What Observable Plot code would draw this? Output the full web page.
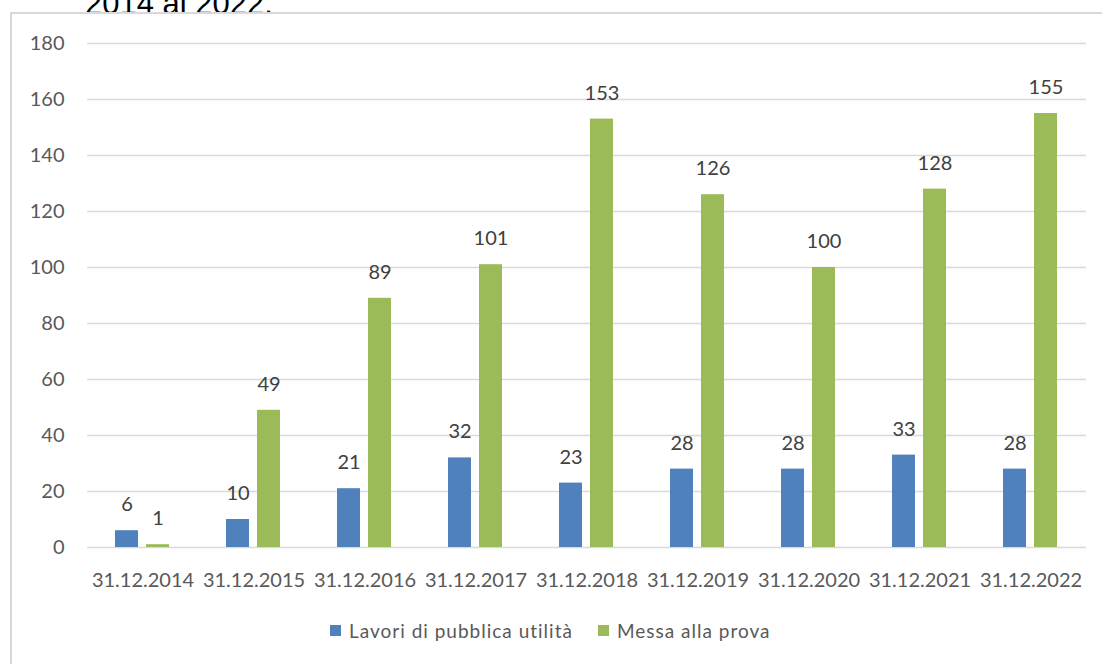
<!DOCTYPE html>
<html>
<head>
<meta charset="utf-8">
<script src="https://cdn.jsdelivr.net/npm/d3@7"></script>
<script src="https://cdn.jsdelivr.net/npm/@observablehq/plot@0.6"></script>
<style>
  html, body { margin: 0; padding: 0; background: #fff; }
  body { width: 1102px; height: 664px; position: relative; overflow: hidden; font-family: Lato, "Open Sans", sans-serif; }
  #title { position: absolute; left: 85px; top: -14px; font-family: "Liberation Sans", Arial, sans-serif; font-size: 31px; color: #000; white-space: nowrap; }
  #frame { position: absolute; left: 10px; top: 12px; width: 1200px; height: 700px; border: 2px solid #d9d9d9; box-sizing: border-box; }
  #chart { position: absolute; left: 0; top: 0; }
  #legend { position: absolute; top: 619px; left: 330px; display: flex; align-items: center; font-size: 19px; letter-spacing: 1px; color: #595959; white-space: nowrap; }
  .sw { display: inline-block; width: 11px; height: 11px; margin-right: 8px; }
  .item { display: flex; align-items: center; margin-right: 25px; }
</style>
</head>
<body>
<div id="title">2014 al 2022.</div>
<div id="frame"></div>
<div id="chart"></div>
<div id="legend"></div>
<script>
const categories = ["31.12.2014","31.12.2015","31.12.2016","31.12.2017","31.12.2018","31.12.2019","31.12.2020","31.12.2021","31.12.2022"];
const lavori = [6, 10, 21, 32, 23, 28, 28, 33, 28];
const messa = [1, 49, 89, 101, 153, 126, 100, 128, 155];
const seriesNames = ["Lavori di pubblica utilità", "Messa alla prova"];
const seriesColors = ["#4F81BD", "#9BBB59"];
const yTicks = [0, 20, 40, 60, 80, 100, 120, 140, 160, 180];

const data = categories.flatMap((c, i) => [
  {cat: c, series: seriesNames[0], value: lavori[i]},
  {cat: c, series: seriesNames[1], value: messa[i]}
]);

const chart = Plot.plot({
  width: 1102,
  height: 600,
  marginTop: 43,
  marginBottom: 53,
  marginLeft: 86,
  marginRight: 16,
  style: {fontFamily: "Lato, 'Open Sans', sans-serif", fontSize: "20px", color: "#595959", background: "transparent"},
  fx: {domain: categories, padding: 0, label: null, axis: null},
  x: {domain: seriesNames, paddingInner: 0.25, paddingOuter: 0.86, axis: null},
  y: {domain: [0, 180], label: null},
  color: {domain: seriesNames, range: seriesColors},
  marks: [
    Plot.gridY(yTicks, {stroke: "#d9d9d9", strokeOpacity: 1, strokeWidth: 1.5}),
    Plot.barY(data, {fx: "cat", x: "series", y: "value", fill: "series"}),
    Plot.text(data, {fx: "cat", x: "series", y: "value", text: d => String(d.value), dy: -26, fill: "#404040", fontSize: 20}),
    Plot.axisY({ticks: yTicks, tickSize: 0, tickPadding: 23, label: null, fontSize: 20}),
    Plot.axisFx({anchor: "bottom", tickSize: 0, tickPadding: 25, label: null, fontSize: 20, style: {letterSpacing: "1.5px"}})
  ]
});
document.getElementById("chart").appendChild(chart);

const legend = document.getElementById("legend");
seriesNames.forEach((name, i) => {
  const item = document.createElement("div");
  item.className = "item";
  const sw = document.createElement("span");
  sw.className = "sw";
  sw.style.background = seriesColors[i];
  item.appendChild(sw);
  item.appendChild(document.createTextNode(name));
  legend.appendChild(item);
});
</script>
</body>
</html>
